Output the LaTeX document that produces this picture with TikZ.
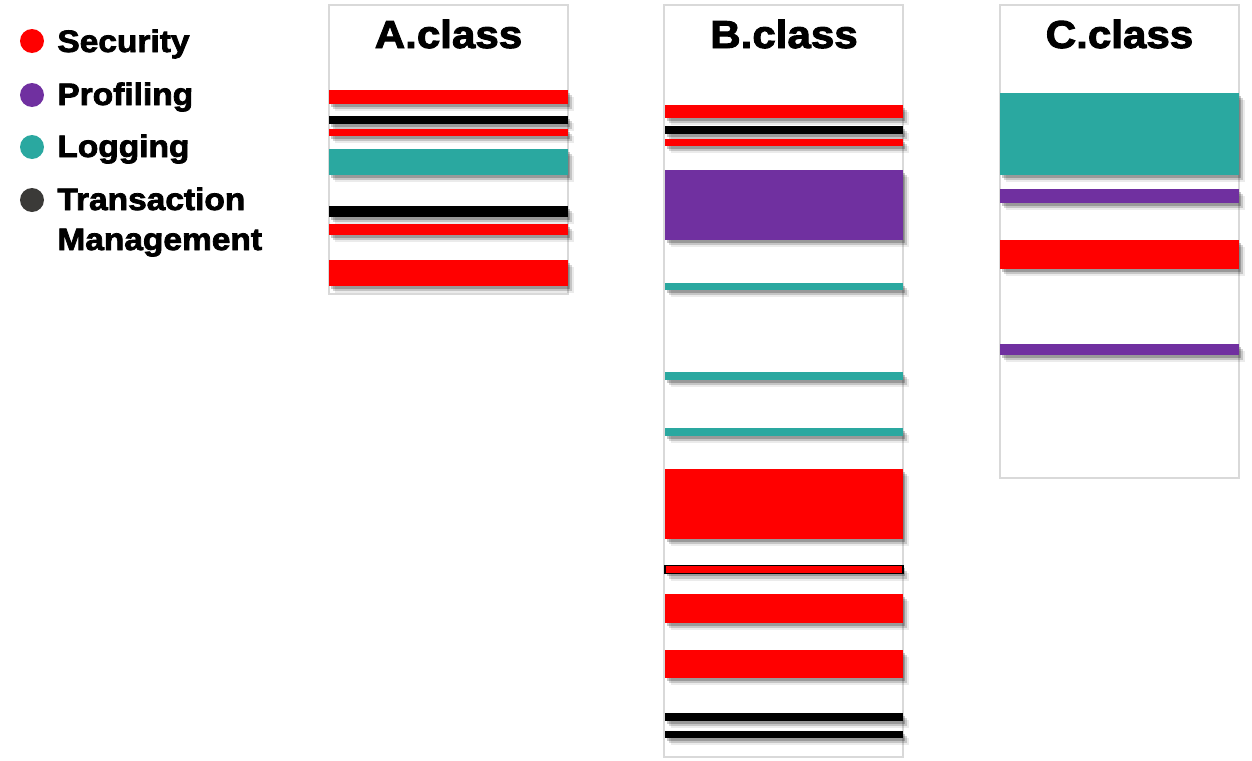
\documentclass[tikz,border=0pt]{standalone}
\usepackage{fontspec}
\setmainfont{Liberation Sans}
\newfontfamily\heavyfont[FakeBold=2.5, FakeStretch=1.08]{Liberation Sans}
\usetikzlibrary{shadows}
\definecolor{secred}{HTML}{FF0000}
\definecolor{profpurple}{HTML}{7030A0}
\definecolor{logteal}{HTML}{2AA8A0}
\definecolor{txdark}{HTML}{3B3A38}
\definecolor{boxgray}{HTML}{D9D9D9}

\begin{document}
\begin{tikzpicture}[
  x=0.5pt, y=-0.5pt,
  classbox/.style={draw=boxgray, line width=1pt, fill=white, anchor=north west, inner sep=0pt, outer sep=0pt, minimum width=119.5pt},
  bar/.style={
    drop shadow={shadow xshift=1pt, shadow yshift=-1.4pt, opacity=0.22, fill=black},
    drop shadow={shadow xshift=2pt, shadow yshift=-2.6pt, opacity=0.16, fill=black},
    drop shadow={shadow xshift=3pt, shadow yshift=-3.6pt, opacity=0.08, fill=black}},
  title/.style={font=\heavyfont\bfseries\fontsize{19.5}{20}\selectfont, anchor=base, inner sep=0pt},
  legend/.style={font=\heavyfont\bfseries\fontsize{15.5}{20}\selectfont, anchor=base west, inner sep=0pt, align=left},
  dot/.style={circle, inner sep=0pt, minimum size=12pt}
]
\useasboundingbox (0,0) rectangle (1252,760);

% legend
\node[dot, fill=secred] (secdot) at (32,41) {};
\node[legend] (seclabel) at (57,52) {Security};
\node[dot, fill=profpurple] (profdot) at (32,95) {};
\node[legend] (proflabel) at (57,105) {Profiling};
\node[dot, fill=logteal] (logdot) at (32,147) {};
\node[legend] (loglabel) at (57,157) {Logging};
\node[dot, fill=txdark] (txdot) at (32,200) {};
\node[legend] (txlabel) at (57,250) {Transaction\\Management};

% class boxes
\node[classbox, minimum height=144.5pt] (A) at (329,5) {};
\node[classbox, minimum height=376pt] (B) at (664,5) {};
\node[classbox, minimum height=236.5pt] (C) at (1000,5) {};

\node[title] (Atitle) at (448.5,48) {A.class};
\node[title] (Btitle) at (784,48) {B.class};
\node[title] (Ctitle) at (1119.5,48) {C.class};

% A.class
\foreach \top/\bot/\col in {90/104/secred, 116/124/black, 129/136/secred,
  149/175/logteal, 206/217/black, 224/235/secred, 260/286/secred}
  \fill[bar, \col] (329,\top) rectangle (568,\bot);

% B.class
\foreach \top/\bot/\col in {105/118/secred, 126/134/black, 139/146/secred,
  170/240/profpurple, 283/290/logteal, 372/380/logteal, 428/436/logteal,
  469/539/secred, 594/623/secred, 650/678/secred, 713/721/black, 731/738/black}
  \fill[bar, \col] (665,\top) rectangle (903,\bot);
\filldraw[bar, fill=secred, draw=black, line width=0.75pt] (665,565.5) rectangle (903,573.5);

% C.class
\foreach \top/\bot/\col in {93/175/logteal, 189/203/profpurple,
  240/269/secred, 344/355/profpurple}
  \fill[bar, \col] (1000,\top) rectangle (1239,\bot);

\end{tikzpicture}
\end{document}
